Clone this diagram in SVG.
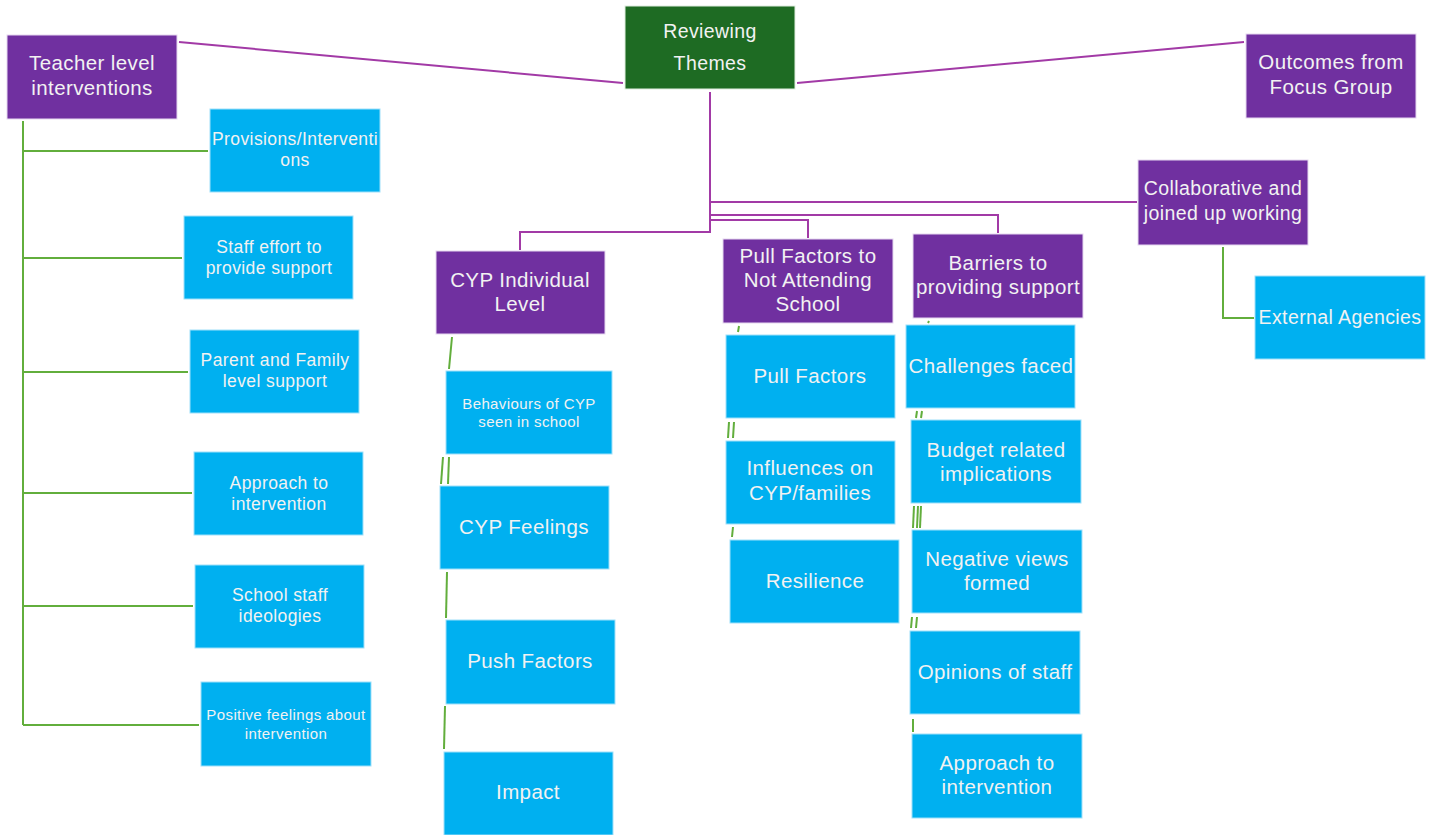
<svg xmlns="http://www.w3.org/2000/svg" width="1442" height="835" viewBox="0 0 1442 835">
<style>
.p{fill:#7030A0;stroke:#E6D8F0;stroke-width:1}
.g{fill:#1E6B23;stroke:#E0EEE0;stroke-width:1}
.b{fill:#00B0F0;stroke:#9FE0FA;stroke-width:1}
text{font-family:"Liberation Sans",Arial,sans-serif;fill:#F2F2F2;text-anchor:middle;letter-spacing:0.4px}
.t19{font-size:20.5px}
.t17{font-size:19.5px}
.t15{font-size:17.5px}
.t13{font-size:15px}
.cp{fill:none;stroke:#A23AA6;stroke-width:2}
.cg{fill:none;stroke:#62AE3C;stroke-width:2}
</style>
<rect width="1442" height="835" fill="#FFFFFF"/>
<g id="connectors">
<line class="cp" x1="179" y1="42" x2="623" y2="83"/>
<line class="cp" x1="797" y1="83" x2="1244" y2="42"/>
<polyline class="cp" points="710,92 710,232 520,232 520,250"/>
<polyline class="cp" points="710,220 808,220 808,238"/>
<polyline class="cp" points="710,215 998,215 998,233"/>
<polyline class="cp" points="710,202 1137,202"/>
<polyline class="cg" points="23,121 23,725"/>
<line class="cg" x1="23" y1="151" x2="208" y2="151"/>
<line class="cg" x1="23" y1="258" x2="182" y2="258"/>
<line class="cg" x1="23" y1="372" x2="188" y2="372"/>
<line class="cg" x1="23" y1="493" x2="192" y2="493"/>
<line class="cg" x1="23" y1="606" x2="193" y2="606"/>
<line class="cg" x1="23" y1="725" x2="199" y2="725"/>
<polyline class="cg" points="1223,247 1223,318 1254,318"/>
<line class="cg" x1="452" y1="337" x2="449" y2="369"/>
<line class="cg" x1="443" y1="457" x2="441" y2="484"/>
<line class="cg" x1="449" y1="457" x2="448" y2="484"/>
<line class="cg" x1="447" y1="572" x2="446" y2="618"/>
<line class="cg" x1="445" y1="706" x2="444" y2="749"/>
<line class="cg" x1="739" y1="326" x2="738" y2="332"/>
<line class="cg" x1="729" y1="422" x2="728" y2="438"/>
<line class="cg" x1="734" y1="422" x2="733" y2="438"/>
<line class="cg" x1="733" y1="527" x2="732" y2="537"/>
<line class="cg" x1="929" y1="321" x2="928" y2="323"/>
<line class="cg" x1="917" y1="411" x2="916" y2="418"/>
<line class="cg" x1="922" y1="411" x2="921" y2="418"/>
<line class="cg" x1="914" y1="506" x2="913" y2="528"/>
<line class="cg" x1="918" y1="506" x2="917" y2="528"/>
<line class="cg" x1="921" y1="506" x2="920" y2="528"/>
<line class="cg" x1="912" y1="617" x2="911" y2="628"/>
<line class="cg" x1="917" y1="617" x2="916" y2="628"/>
<line class="cg" x1="913" y1="719" x2="913" y2="732"/>
</g>
<g id="reviewing"><rect class="g" x="625" y="6" width="170" height="83"/><text class="t17" x="710" y="38">Reviewing</text><text class="t17" x="710" y="70">Themes</text></g>
<g id="teacher"><rect class="p" x="7" y="35" width="170" height="84"/><text class="t19" x="92" y="70">Teacher level</text><text class="t19" x="92" y="95">interventions</text></g>
<g id="outcomes"><rect class="p" x="1246" y="34" width="170" height="84"/><text class="t19" x="1331" y="69">Outcomes from</text><text class="t19" x="1331" y="94">Focus Group</text></g>
<g id="collab"><rect class="p" x="1138" y="160" width="170" height="85"/><text class="t17" x="1223" y="195">Collaborative and</text><text class="t17" x="1223" y="220">joined up working</text></g>
<g id="external"><rect class="b" x="1255" y="276" width="170" height="83"/><text class="t17" x="1340" y="324">External Agencies</text></g>
<g id="provisions"><rect class="b" x="210" y="109" width="170" height="83"/><text class="t15" x="295" y="145">Provisions/Interventi</text><text class="t15" x="295" y="166">ons</text></g>
<g id="staffeffort"><rect class="b" x="184" y="216" width="169" height="83"/><text class="t15" x="269" y="253">Staff effort to</text><text class="t15" x="269" y="274">provide support</text></g>
<g id="parent"><rect class="b" x="190" y="330" width="169" height="83"/><text class="t15" x="275" y="366">Parent and Family</text><text class="t15" x="275" y="387">level support</text></g>
<g id="approach1"><rect class="b" x="194" y="452" width="169" height="83"/><text class="t15" x="279" y="489">Approach to</text><text class="t15" x="279" y="510">intervention</text></g>
<g id="ideologies"><rect class="b" x="195" y="565" width="169" height="83"/><text class="t15" x="280" y="601">School staff</text><text class="t15" x="280" y="622">ideologies</text></g>
<g id="positive"><rect class="b" x="201" y="682" width="170" height="84"/><text class="t13" x="286" y="720">Positive feelings about</text><text class="t13" x="286" y="739">intervention</text></g>
<g id="cyp"><rect class="p" x="436" y="251" width="169" height="83"/><text class="t19" x="520" y="287">CYP Individual</text><text class="t19" x="520" y="311">Level</text></g>
<g id="behaviours"><rect class="b" x="446" y="371" width="166" height="83"/><text class="t13" x="529" y="409">Behaviours of CYP</text><text class="t13" x="529" y="427">seen in school</text></g>
<g id="feelings"><rect class="b" x="440" y="486" width="169" height="83"/><text class="t19" x="524" y="534">CYP Feelings</text></g>
<g id="push"><rect class="b" x="446" y="620" width="169" height="84"/><text class="t19" x="530" y="668">Push Factors</text></g>
<g id="impact"><rect class="b" x="444" y="752" width="169" height="83"/><text class="t19" x="528" y="799">Impact</text></g>
<g id="pullnode"><rect class="p" x="723" y="239" width="170" height="84"/><text class="t19" x="808" y="263">Pull Factors to</text><text class="t19" x="808" y="287">Not Attending</text><text class="t19" x="808" y="311">School</text></g>
<g id="pull"><rect class="b" x="726" y="335" width="169" height="83"/><text class="t19" x="810" y="383">Pull Factors</text></g>
<g id="influences"><rect class="b" x="726" y="441" width="169" height="83"/><text class="t19" x="810" y="475">Influences on</text><text class="t19" x="810" y="500">CYP/families</text></g>
<g id="resilience"><rect class="b" x="730" y="540" width="169" height="83"/><text class="t19" x="815" y="588">Resilience</text></g>
<g id="barriers"><rect class="p" x="913" y="234" width="170" height="84"/><text class="t19" x="998" y="270">Barriers to</text><text class="t19" x="998" y="294">providing support</text></g>
<g id="challenges"><rect class="b" x="906" y="325" width="169" height="83"/><text class="t19" x="991" y="373">Challenges faced</text></g>
<g id="budget"><rect class="b" x="911" y="420" width="170" height="83"/><text class="t19" x="996" y="457">Budget related</text><text class="t19" x="996" y="481">implications</text></g>
<g id="negative"><rect class="b" x="912" y="530" width="170" height="83"/><text class="t19" x="997" y="566">Negative views</text><text class="t19" x="997" y="590">formed</text></g>
<g id="opinions"><rect class="b" x="910" y="631" width="170" height="83"/><text class="t19" x="995" y="679">Opinions of staff</text></g>
<g id="approach2"><rect class="b" x="912" y="734" width="170" height="84"/><text class="t19" x="997" y="770">Approach to</text><text class="t19" x="997" y="794">intervention</text></g>
</svg>
